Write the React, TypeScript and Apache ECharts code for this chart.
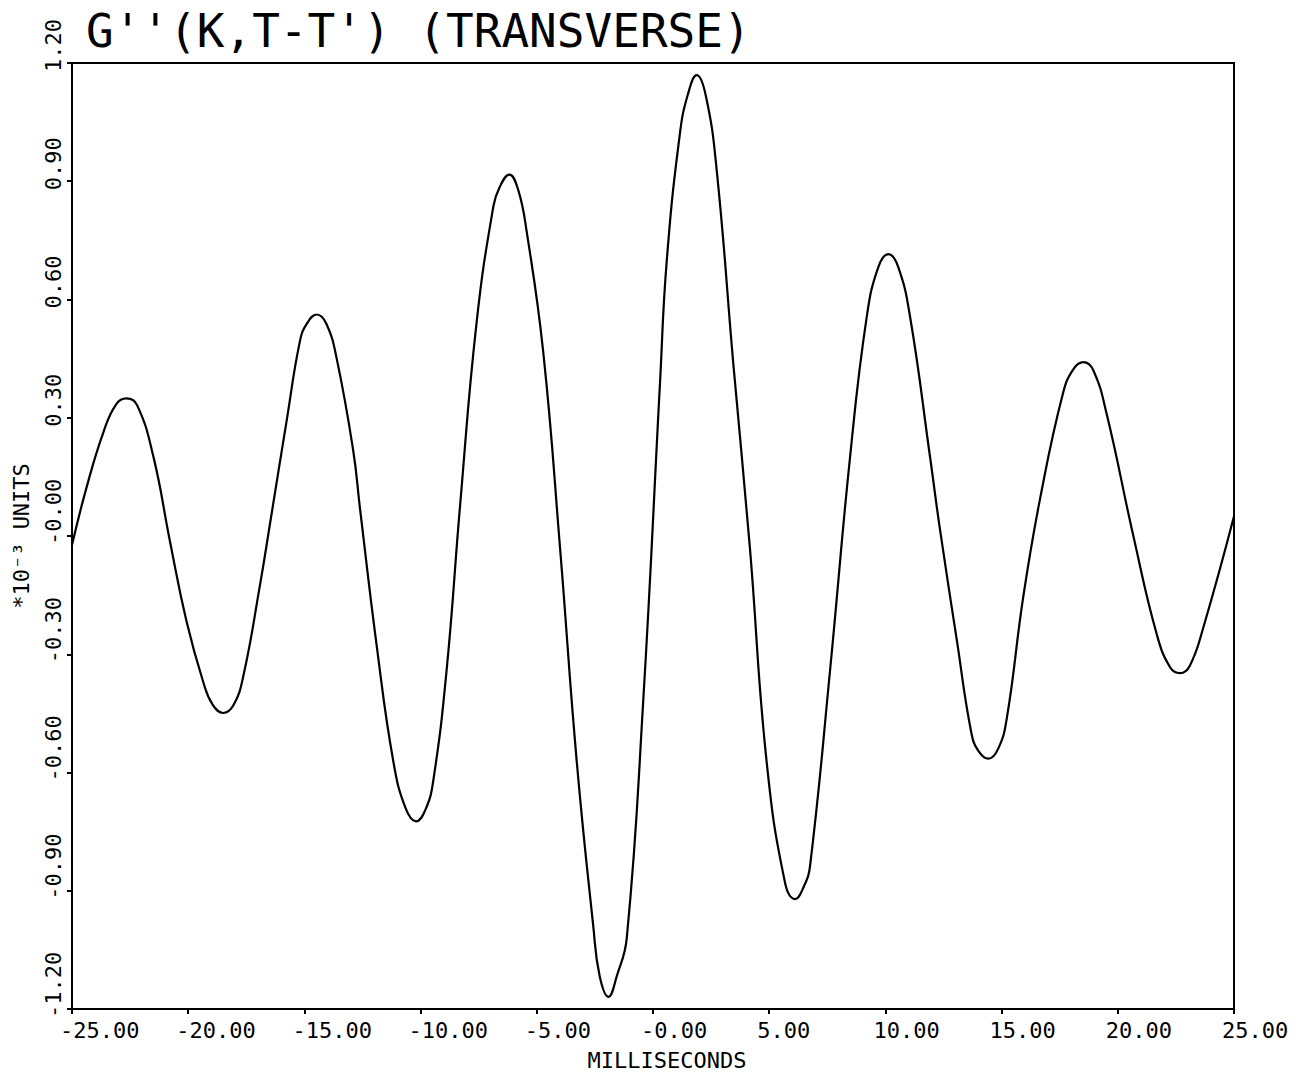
import React, { useEffect, useRef } from "react";
import * as echarts from "echarts";

const titleText = "G''(K,T-T') (TRANSVERSE)";
const xAxisName = "MILLISECONDS";
const yAxisName = "*10⁻³ UNITS";

const xTickLabels = ["-25.00", "-20.00", "-15.00", "-10.00", "-5.00", "-0.00", "5.00", "10.00", "15.00", "20.00", "25.00"];
const yTickLabels = ["-1.20", "-0.90", "-0.60", "-0.30", "-0.00", "0.30", "0.60", "0.90", "1.20"];

const msValues = [
  -25.0, -24.37, -23.65, -23.1, -22.65, -22.2, -21.5, -20.78, -20.07, -19.35,
  -18.95, -18.49, -18.05, -17.63, -16.91, -16.48, -15.76, -15.19, -14.9, -14.47,
  -14.05, -13.61, -12.9, -12.61, -11.89, -11.17, -10.65, -10.2, -9.78, -9.45,
  -8.88, -8.3, -7.59, -6.87, -6.6, -6.18, -5.8, -5.44, -4.72, -4.0,
  -3.28, -2.57, -2.3, -1.92, -1.55, -1.13, -0.42, 0.3, 0.59, 1.16,
  1.5, 1.88, 2.28, 2.74, 3.46, 4.17, 4.89, 5.7, 6.11, 6.5,
  6.76, 7.62, 8.48, 9.2, 9.7, 10.13, 10.55, 11.06, 11.92, 12.35,
  13.07, 13.7, 14.0, 14.43, 14.85, 15.22, 15.93, 16.65, 17.65, 18.1,
  18.52, 18.95, 19.52, 20.67, 21.67, 22.25, 22.68, 23.1, 23.68, 25.0,
];
const gValues = [
  -0.023, 0.124, 0.263, 0.334, 0.349, 0.332, 0.202, -0.015, -0.217, -0.371,
  -0.428, -0.449, -0.429, -0.356, -0.124, 0.031, 0.294, 0.495, 0.538, 0.562,
  0.538, 0.45, 0.217, 0.071, -0.278, -0.573, -0.69, -0.724, -0.693, -0.619,
  -0.34, 0.078, 0.542, 0.836, 0.885, 0.917, 0.878, 0.774, 0.465, -0.03,
  -0.573, -0.99, -1.115, -1.169, -1.115, -1.021, -0.418, 0.387, 0.697, 1.022,
  1.12, 1.169, 1.115, 0.929, 0.434, -0.03, -0.573, -0.885, -0.921, -0.888,
  -0.836, -0.34, 0.201, 0.557, 0.683, 0.715, 0.683, 0.557, 0.201, 0.016,
  -0.263, -0.5, -0.545, -0.565, -0.54, -0.464, -0.155, 0.093, 0.364, 0.424,
  0.441, 0.42, 0.31, 0.0, -0.248, -0.333, -0.348, -0.329, -0.232, 0.05,
];

const X_MIN = -25, X_MAX = 25, X_STEP = 5;
const Y_MIN = -1.2, Y_MAX = 1.2, Y_STEP = 0.3;
const FONT = "DejaVu Sans Mono";

export default function App() {
  const ref = useRef<HTMLDivElement>(null);
  useEffect(() => {
    document.body.style.margin = "0";
    if (!ref.current) return;
    const chart = echarts.init(ref.current, null, { renderer: "svg" });
    const data = msValues.map((x, i) => [x, gValues[i]]);
    chart.setOption({
      animation: false,
      backgroundColor: "#fff",
      title: {
        text: titleText,
        left: 81,
        top: 3,
        textStyle: { fontFamily: FONT, fontSize: 46, fontWeight: "normal", color: "#000" },
      },
      grid: {
        left: 72,
        right: 66,
        top: 63,
        bottom: 63,
        show: true,
        borderColor: "#000",
        borderWidth: 2,
      },
      xAxis: {
        type: "value",
        min: X_MIN,
        max: X_MAX,
        interval: X_STEP,
        name: xAxisName,
        nameLocation: "middle",
        nameGap: 40,
        nameTextStyle: { fontFamily: FONT, fontSize: 22, color: "#000", padding: [0, 0, 0, 28] },
        axisLine: { show: true, onZero: false, lineStyle: { color: "#000", width: 2 } },
        axisTick: { show: true, length: 5, lineStyle: { color: "#000", width: 2 } },
        splitLine: { show: false },
        axisLabel: {
          margin: 10,
          align: "left",
          padding: [0, 0, 0, -12],
          fontFamily: FONT,
          fontSize: 22,
          color: "#000",
          formatter: (v: number) => xTickLabels[Math.round((v - X_MIN) / X_STEP)] ?? "",
        },
      },
      yAxis: {
        type: "value",
        min: Y_MIN,
        max: Y_MAX,
        interval: Y_STEP,
        name: yAxisName,
        nameLocation: "middle",
        nameGap: 40,
        nameTextStyle: { fontFamily: FONT, fontSize: 22, color: "#000" },
        axisLine: { show: true, onZero: false, lineStyle: { color: "#000", width: 2 } },
        axisTick: { show: true, length: 5, lineStyle: { color: "#000", width: 2 } },
        splitLine: { show: false },
        axisLabel: {
          rotate: 90,
          margin: 8,
          align: "left",
          verticalAlign: "bottom",
          padding: [0, 0, 0, -9],
          fontFamily: FONT,
          fontSize: 22,
          color: "#000",
          formatter: (v: number) => yTickLabels[Math.round((v - Y_MIN) / Y_STEP)] ?? "",
        },
      },
      series: [
        {
          type: "line",
          data,
          smooth: 0.45,
          showSymbol: false,
          lineStyle: { color: "#000", width: 2.2 },
        },
      ],
    });
    return () => chart.dispose();
  }, []);
  return <div ref={ref} style={{ width: 1300, height: 1076 }} />;
}
